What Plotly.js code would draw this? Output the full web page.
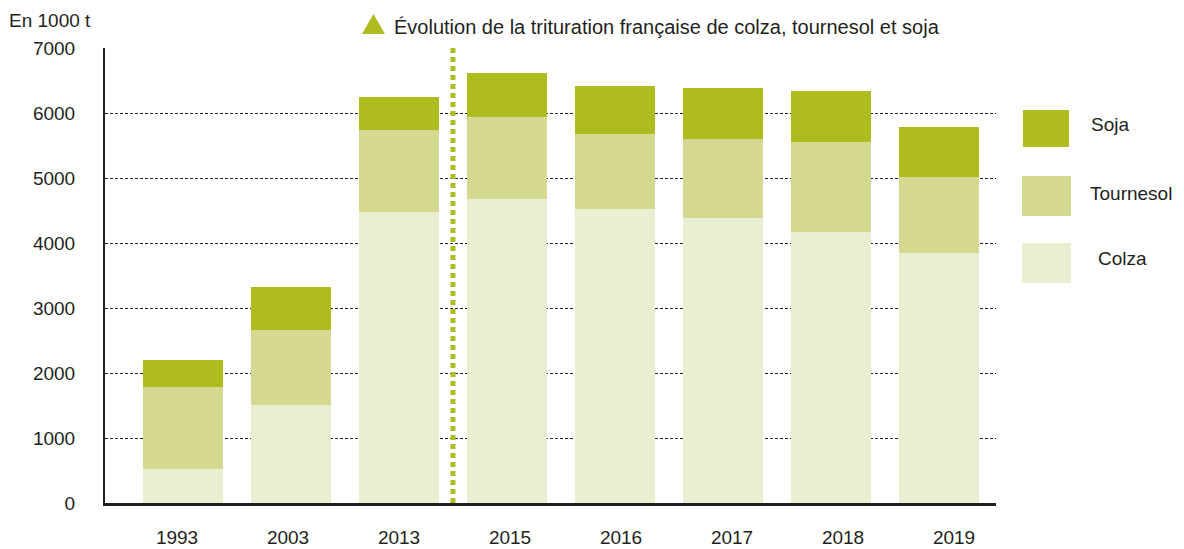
<!DOCTYPE html>
<html>
<head>
<meta charset="utf-8">
<script src="https://cdn.plot.ly/plotly-3.0.1.min.js"></script>
<style>html,body{margin:0;padding:0;background:#fff;}#chart{width:1184px;height:549px;}</style>
</head>
<body>
<div id="chart"></div>
<script>
// Data (en 1000 t)
const years = ['1993','2003','2013','2015','2016','2017','2018','2019'];
const colza = [528, 1512, 4482, 4682, 4528, 4389, 4174, 3851];
const tournesol = [1261, 1154, 1261, 1261, 1149, 1216, 1384, 1169];
const soja = [416, 662, 508, 677, 743, 784, 785, 769];
const seriesNames = ['Soja', 'Tournesol', ' Colza'];
const yTicks = [0, 1000, 2000, 3000, 4000, 5000, 6000, 7000];
const titleText = 'Évolution de la trituration française de colza, tournesol et soja';
const unitText = 'En 1000 t';

const C_SOJA = '#afbc21', C_TOURN = '#d4d98f', C_COLZA = '#ebefd1';
const TXT = '#231f20';
const FONT = 'Liberation Sans, Arial, sans-serif';

const common = {type: 'bar', x: years, width: 0.74, hoverinfo: 'y', showlegend: false};
const traces = [
  Object.assign({}, common, {y: colza, name: seriesNames[2], marker: {color: C_COLZA, line: {width: 0}}}),
  Object.assign({}, common, {y: tournesol, name: seriesNames[1], marker: {color: C_TOURN, line: {width: 0}}}),
  Object.assign({}, common, {y: soja, name: seriesNames[0], marker: {color: C_SOJA, line: {width: 0}}}),
  // carrier for the year labels axis (no visible marks)
  {type: 'scatter', mode: 'markers', x: years.map((_, i) => i), y: years.map(() => null),
   xaxis: 'x2', yaxis: 'y', showlegend: false, hoverinfo: 'skip', marker: {opacity: 0}}
];

// legend swatches (paper coords)
const legendBoxes = [
  {c: C_SOJA, x0: 1.0303, x1: 1.0819, y0: 0.7824, y1: 0.8637, tx: 1.1044, ty: 0.8308, t: seriesNames[0]},
  {c: C_TOURN, x0: 1.0292, x1: 1.0842, y0: 0.6308, y1: 0.7187, tx: 1.1033, ty: 0.6813, t: seriesNames[1]},
  {c: C_COLZA, x0: 1.0292, x1: 1.0842, y0: 0.4835, y1: 0.5714, tx: 1.1122, ty: 0.5363, t: seriesNames[2]}
];

const shapes = [
  {type: 'line', xref: 'x', yref: 'paper', x0: 2.5, x1: 2.5, y0: 0, y1: 1,
   line: {color: C_SOJA, width: 5, dash: '5px,4px'}, layer: 'above'},
  {type: 'path', xref: 'paper', yref: 'paper',
   path: 'M 0.2884 1.0308 L 0.3143 1.0308 L 0.3013 1.0747 Z',
   fillcolor: C_SOJA, line: {width: 0}}
];
legendBoxes.forEach(b => shapes.push({type: 'rect', xref: 'paper', yref: 'paper',
  x0: b.x0, x1: b.x1, y0: b.y0, y1: b.y1, fillcolor: b.c, line: {width: 0}}));

const annotations = [
  {xref: 'paper', yref: 'paper', x: 0.3221, y: 1.0462, xanchor: 'left', yanchor: 'middle',
   text: titleText, showarrow: false, font: {family: FONT, size: 20, color: TXT}},
  {xref: 'paper', yref: 'paper', x: -0.1105, y: 1.0615, xanchor: 'left', yanchor: 'middle',
   text: unitText, showarrow: false, font: {family: FONT, size: 19, color: TXT}}
];
legendBoxes.forEach(b => annotations.push({xref: 'paper', yref: 'paper', x: b.tx, y: b.ty,
  xanchor: 'left', yanchor: 'middle', text: b.t.trim(), showarrow: false,
  font: {family: FONT, size: 19, color: TXT}}));

const layout = {
  width: 1184, height: 549,
  margin: {l: 105, r: 188, t: 48, b: 46},
  paper_bgcolor: '#fff', plot_bgcolor: '#fff',
  barmode: 'stack', bargap: 0,
  showlegend: false,
  font: {family: FONT, size: 19, color: TXT},
  xaxis: {
    type: 'category', range: [-0.722, 7.528],
    showgrid: false, zeroline: false,
    showline: true, linecolor: TXT, linewidth: 3,
    ticks: '', showticklabels: false
  },
  xaxis2: {
    overlaying: 'x', anchor: 'y', side: 'bottom', type: 'linear',
    range: [-0.649, 7.378], tickmode: 'array', tickvals: years.map((_, i) => i), ticktext: years,
    showgrid: false, zeroline: false, showline: false,
    ticks: '', ticklabelstandoff: 21,
    tickfont: {family: FONT, size: 19, color: TXT}
  },
  yaxis: {
    range: [0, 7000], tickvals: yTicks, ticktext: yTicks.map(String),
    showgrid: true, gridcolor: TXT, gridwidth: 1, griddash: '3px,2px',
    zeroline: false, showline: true, linecolor: TXT, linewidth: 2,
    ticks: '', ticklabelstandoff: 24,
    tickfont: {family: FONT, size: 19, color: TXT}
  },
  shapes: shapes,
  annotations: annotations
};

Plotly.newPlot('chart', traces, layout, {staticPlot: true, displayModeBar: false});
</script>
</body>
</html>
